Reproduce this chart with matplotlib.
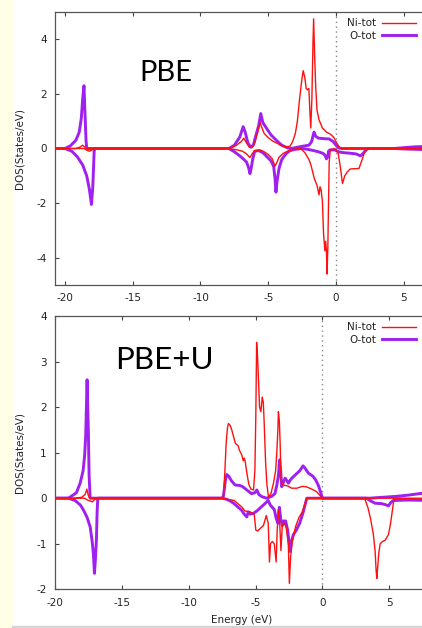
import numpy as np
import matplotlib.pyplot as plt
from matplotlib.patches import Rectangle

plt.rcParams['axes.unicode_minus'] = False

# ---- PBE panel (energies in eV, DOS in states/eV) ----
pbe_ni_up_e = [-21, -19.2, -18.9, -18.7, -18.55, -18.4, -7.9, -7.4, -7.0, -6.8, -6.6, -6.4, -6.2, -6.0, -5.8,
               -5.6, -5.5, -5.3, -5.0, -4.7, -4.3, -4.0, -3.7, -3.4, -3.2, -3.0, -2.85, -2.7, -2.55, -2.42,
               -2.3, -2.2, -2.1, -2.0, -1.93, -1.86, -1.78, -1.7, -1.65, -1.58, -1.5, -1.4, -1.25, -1.0, -0.7,
               -0.4, -0.15, 0.05, 0.3, 0.5, 4.5, 5.5, 8]
pbe_ni_up = [0, 0, 0.05, 0.12, 0.05, 0, 0, 0.1, 0.25, 0.38, 0.2, 0.05, 0.03, 0.2, 0.55,
             0.95, 0.8, 0.55, 0.4, 0.28, 0.18, 0.1, 0.06, 0.08, 0.25, 0.55, 1.0, 1.75, 2.4, 2.85,
             2.6, 2.2, 2.15, 2.2, 1.4, 0.75, 1.8, 3.8, 4.75, 3.5, 2.3, 1.4, 1.05, 0.75, 0.6,
             0.52, 0.4, 0.2, 0.02, 0, 0, 0.02, 0.04]

pbe_ni_dn_e = [-21, -18.6, -18.4, -18.2, -18.0, -17.8, -7.9, -7.3, -6.9, -6.6, -6.35, -6.2, -6.0, -5.6, -5.3,
               -5.0, -4.7, -4.5, -4.4, -4.2, -3.9, -3.5, -3.0, -2.6, -2.3, -2.0, -1.85, -1.6, -1.4, -1.25,
               -1.18, -1.1, -1.0, -0.92, -0.82, -0.76, -0.7, -0.66, -0.6, -0.55, -0.5, -0.42, -0.1, 0.15,
               0.3, 0.48, 0.65, 0.85, 1.05, 1.7, 1.9, 2.1, 2.3, 4.5, 8]
pbe_ni_dn = [0, 0, -0.06, -0.1, -0.05, 0, 0, -0.05, -0.1, -0.2, -0.33, -0.2, -0.08, -0.05, -0.12,
             -0.22, -0.38, -0.65, -0.55, -0.32, -0.18, -0.08, -0.02, 0, -0.15, -0.4, -0.6, -1.1, -1.35, -1.7,
             -1.4, -1.5, -1.95, -3.1, -3.75, -3.4, -3.8, -4.6, -3.6, -2.0, -0.5, -0.05, 0, -0.15,
             -0.6, -1.28, -1.0, -0.85, -0.75, -0.73, -0.45, -0.15, 0, 0, -0.03]

pbe_o_up_e = [-21, -20.0, -19.6, -19.2, -18.95, -18.8, -18.7, -18.6, -18.55, -18.45, -18.4, -7.9, -7.5, -7.1,
              -6.85, -6.7, -6.5, -6.3, -6.1, -5.9, -5.7, -5.55, -5.4, -5.1, -4.8, -4.4, -4.0, -3.6, -3.3,
              -3.0, -2.5, -2.0, -1.8, -1.7, -1.62, -1.5, -1.3, -0.9, -0.5, -0.2, 0.0, 0.2, 0.4, 4.3, 5.0,
              5.8, 8]
pbe_o_up = [0, 0, 0.1, 0.3, 0.6, 1.1, 1.8, 2.3, 1.6, 0.3, 0, 0, 0.12, 0.42,
            0.8, 0.6, 0.2, 0.05, 0.12, 0.5, 0.85, 1.28, 0.95, 0.72, 0.5, 0.3, 0.12, 0.03, 0.0,
            0.03, 0.08, 0.12, 0.25, 0.45, 0.6, 0.45, 0.38, 0.36, 0.35, 0.25, 0.12, 0.02, 0, 0, 0.03,
            0.06, 0.1]

pbe_o_dn_e = [-21, -20.0, -19.5, -19.1, -18.7, -18.4, -18.2, -18.05, -17.95, -17.85, -17.8, -7.9, -7.5, -7.1,
              -6.8, -6.6, -6.45, -6.35, -6.25, -6.15, -6.0, -5.7, -5.4, -5.1, -4.8, -4.6, -4.5, -4.43, -4.35,
              -4.2, -4.0, -3.7, -3.4, -3.0, -2.5, -2.1, -1.7, -1.3, -0.95, -0.8, -0.7, -0.6, -0.55, -0.45,
              -0.1, 0.2, 0.5, 1.0, 1.5, 1.8, 2.0, 2.25, 2.4, 4.3, 5.2, 8]
pbe_o_dn = [0, 0, -0.1, -0.3, -0.6, -1.0, -1.5, -2.05, -1.4, -0.1, 0, 0, -0.12, -0.27,
            -0.4, -0.5, -0.7, -0.92, -0.7, -0.4, -0.1, -0.08, -0.15, -0.3, -0.45, -0.65, -1.1, -1.6, -1.2,
            -0.72, -0.4, -0.2, -0.08, -0.03, 0, -0.03, -0.07, -0.12, -0.18, -0.25, -0.38, -0.3, -0.1, -0.05,
            -0.05, -0.12, -0.15, -0.17, -0.2, -0.27, -0.18, -0.04, 0, 0, -0.02, -0.06]

# ---- PBE+U panel ----
u_ni_up_e = [-21, -18.6, -18.0, -17.75, -17.62, -17.5, -17.4, -7.5, -7.4, -7.3, -7.2, -7.1, -7.03, -6.9, -6.78,
             -6.6, -6.5, -6.3, -6.2, -6.03, -5.92, -5.85, -5.78, -5.65, -5.5, -5.35, -5.15, -5.05, -4.98,
             -4.92, -4.85, -4.78, -4.7, -4.6, -4.5, -4.42, -4.36, -4.25, -4.15, -4.03, -3.85, -3.66, -3.5,
             -3.41, -3.33, -3.29, -3.22, -3.16, -3.09, -3.0, -2.8, -2.6, -2.3, -1.9, -1.5, -1.2, -0.8,
             -0.42, -0.15, 0.0, 8]
u_ni_up = [0, 0, 0.02, 0.08, 0.2, 0.05, 0, 0, 0.05, 0.55, 1.2, 1.55, 1.64, 1.6, 1.5,
           1.3, 1.2, 1.15, 1.05, 0.95, 0.82, 0.88, 0.82, 0.55, 0.3, 0.2, 0.18, 0.6, 1.8,
           3.42, 3.1, 2.6, 2.0, 1.9, 2.22, 2.1, 1.7, 0.8, 0.3, 0.02, 0.1, 0.33, 0.6,
           1.0, 1.5, 1.9, 1.7, 1.2, 0.4, 0.3, 0.28, 0.27, 0.22, 0.22, 0.26, 0.25, 0.2,
           0.14, 0.05, 0, 0]

u_ni_dn_e = [-21, -17.8, -17.5, -17.2, -17.0, -16.8, -7.5, -6.6, -6.0, -5.8, -5.4, -5.1, -4.98, -4.85, -4.6,
             -4.41, -4.2, -4.05, -3.96, -3.88, -3.75, -3.6, -3.46, -3.38, -3.3, -3.2, -3.1, -3.0, -2.85,
             -2.7, -2.55, -2.47, -2.38, -2.25, -2.0, -1.75, -1.5, -1.3, -1.15, 3.15, 3.4, 3.6, 3.8, 3.94,
             4.02, 4.07, 4.14, 4.22, 4.32, 4.5, 4.7, 4.94, 5.1, 5.22, 5.36, 8]
u_ni_dn = [0, 0, -0.05, -0.08, -0.02, 0, 0, -0.05, -0.2, -0.28, -0.3, -0.35, -0.7, -0.72, -0.65,
           -0.6, -0.38, -0.55, -1.4, -1.0, -0.95, -1.0, -1.4, -0.7, -0.25, -0.5, -1.15, -0.6, -0.55,
           -0.65, -1.0, -1.87, -1.3, -0.95, -0.62, -0.42, -0.3, -0.12, 0, 0, -0.2, -0.45, -0.77, -1.15,
           -1.6, -1.76, -1.5, -1.2, -1.0, -0.95, -0.92, -0.8, -0.55, -0.3, 0, -0.03]

u_o_up_e = [-21, -19.0, -18.74, -18.4, -18.12, -17.9, -17.78, -17.7, -17.65, -17.6, -17.55, -17.5, -17.45,
            -17.37, -7.5, -7.4, -7.25, -7.15, -7.0, -6.8, -6.53, -6.2, -6.0, -5.65, -5.3, -5.05, -4.9,
            -4.75, -4.5, -4.16, -3.8, -3.55, -3.4, -3.29, -3.2, -3.12, -3.04, -2.92, -2.79, -2.65, -2.54,
            -2.4, -2.25, -2.0, -1.7, -1.45, -1.3, -1.05, -0.7, -0.5, -0.3, -0.12, 0.0, 3.5, 4.5, 5.5,
            6.5, 8]
u_o_up = [0, 0, 0.05, 0.12, 0.33, 0.6, 0.95, 1.4, 2.0, 2.6, 2.0, 1.4, 0.5,
          0, 0, 0.05, 0.4, 0.52, 0.48, 0.38, 0.29, 0.28, 0.26, 0.18, 0.1, 0.12, 0.18,
          0.08, 0.03, 0.0, 0.04, 0.1, 0.3, 0.5, 0.84, 0.6, 0.25, 0.35, 0.44, 0.38, 0.33,
          0.4, 0.45, 0.52, 0.6, 0.71, 0.66, 0.55, 0.48, 0.4, 0.28, 0.12, 0, 0, 0.02, 0.04,
          0.07, 0.13]

u_o_dn_e = [-21, -19.0, -18.5, -18.1, -17.87, -17.6, -17.37, -17.22, -17.13, -17.05, -16.97, -16.9, -16.85,
            -16.8, -7.5, -7.2, -6.9, -6.6, -6.3, -6.05, -5.85, -5.65, -5.55, -5.4, -5.15, -4.9, -4.6,
            -4.3, -4.05, -3.9, -3.75, -3.6, -3.45, -3.32, -3.22, -3.12, -3.0, -2.9, -2.75, -2.6, -2.5,
            -2.42, -2.32, -2.17, -1.95, -1.7, -1.45, -1.3, -1.17, 3.3, 3.6, 3.94, 4.44, 4.8, 4.94, 5.1,
            5.3, 6.5, 8]
u_o_dn = [0, 0, -0.05, -0.15, -0.26, -0.42, -0.63, -0.95, -1.21, -1.65, -1.3, -0.9, -0.3,
          0, 0, -0.02, -0.06, -0.12, -0.2, -0.26, -0.35, -0.41, -0.3, -0.35, -0.33, -0.28, -0.2,
          -0.12, -0.05, -0.15, -0.2, -0.25, -0.45, -0.55, -0.2, -0.45, -0.6, -0.5, -0.5, -0.7, -0.95,
          -1.17, -0.95, -0.8, -0.7, -0.55, -0.32, -0.15, 0, 0, -0.06, -0.11, -0.12, -0.15, -0.17, -0.1,
          -0.05, -0.04, -0.05]

ni_col = '#ff1010'
o_col = '#a020f0'

fig = plt.figure(figsize=(4.22, 6.28), dpi=100)
fig.patches.append(Rectangle((0, 0), 12 / 422, 1, transform=fig.transFigure, color='#ffffe6', zorder=0))
fig.patches.append(Rectangle((12 / 422, 0), 1, 2 / 628, transform=fig.transFigure, color='#d4d4d4', zorder=0))

ax1 = fig.add_axes([55 / 422, 343 / 628, 367 / 422, 273 / 628])
ax2 = fig.add_axes([55 / 422, 38.7 / 628, 367 / 422, 273.3 / 628])


def draw(ax, ni_up, ni_dn, o_up, o_dn, xlim, ylim, yticks, label, label_xy, label_size):
    ax.plot(o_up[0], o_up[1], color=o_col, lw=2.1, label='O-tot', zorder=2)
    ax.plot(o_dn[0], o_dn[1], color=o_col, lw=2.1, zorder=2)
    ax.plot(ni_up[0], ni_up[1], color=ni_col, lw=1.0, label='Ni-tot', zorder=3)
    ax.plot(ni_dn[0], ni_dn[1], color=ni_col, lw=1.0, zorder=3)
    ax.axvline(0, color='#888888', lw=1.0, ls=(0, (1, 2.5)), zorder=1)
    ax.set_xlim(*xlim)
    ax.set_ylim(*ylim)
    ax.set_xticks([-20, -15, -10, -5, 0, 5])
    ax.set_yticks(yticks)
    ax.tick_params(direction='in', top=True, length=3, width=0.8, labelsize=7.5,
                   colors='#444444', labelcolor='#222222', pad=6)
    for s in ['left', 'bottom', 'top']:
        ax.spines[s].set_color('#555555')
        ax.spines[s].set_linewidth(0.9)
    ax.spines['right'].set_visible(False)
    ax.set_ylabel('DOS(States/eV)', fontsize=7.5, color='#222222')
    ax.yaxis.set_label_coords(-0.082, 0.5)
    h, l = ax.get_legend_handles_labels()
    ax.legend(h[::-1], l[::-1], loc='upper right', frameon=False, fontsize=7.5, markerfirst=False,
              handlelength=3.2, labelspacing=0.25, borderaxespad=0.2, handletextpad=0.6,
              labelcolor='#222222')
    ax.text(label_xy[0], label_xy[1], label, transform=ax.transAxes, fontsize=label_size,
            family='Lato', ha='center', va='center', color='black')


draw(ax1, (pbe_ni_up_e, pbe_ni_up), (pbe_ni_dn_e, pbe_ni_dn), (pbe_o_up_e, pbe_o_up),
     (pbe_o_dn_e, pbe_o_dn), (-20.74, 6.35), (-5, 5), [-4, -2, 0, 2, 4], 'PBE',
     ((166 - 55) / 367, (285 - 73) / 273), 21)
draw(ax2, (u_ni_up_e, u_ni_up), (u_ni_dn_e, u_ni_dn), (u_o_up_e, u_o_up),
     (u_o_dn_e, u_o_dn), (-20, 7.45), (-2, 4), [-2, -1, 0, 1, 2, 3, 4], 'PBE+U',
     ((164 - 55) / 367, (589.3 - 360) / 273.3), 22.5)
ax2.set_xlabel('Energy (eV)', fontsize=7.5, color='#222222')
ax2.xaxis.set_label_coords(0.509, -0.095)

fig.savefig('out.png', dpi=100)
